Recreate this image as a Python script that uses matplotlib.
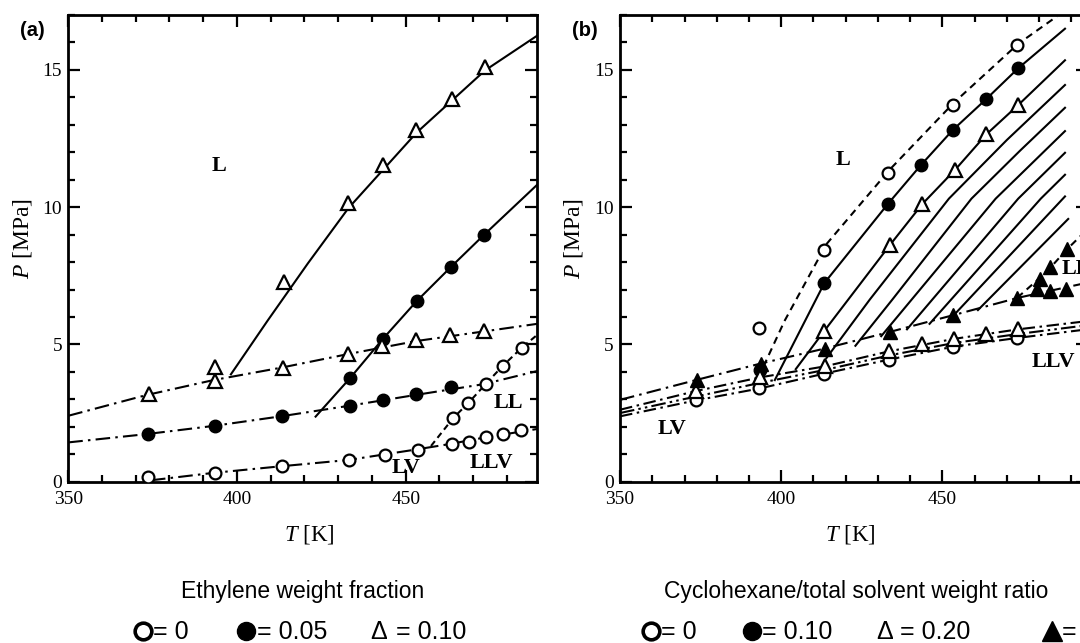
import numpy as np
import matplotlib
matplotlib.use('Agg')
import matplotlib.pyplot as plt
from matplotlib.lines import Line2D
from matplotlib.ticker import MultipleLocator

plt.rcParams['font.family'] = ['Liberation Serif', 'DejaVu Serif']
plt.rcParams['mathtext.fontset'] = 'custom'
plt.rcParams['mathtext.it'] = 'Liberation Serif:italic'
plt.rcParams['mathtext.rm'] = 'Liberation Serif'

# ---------------- panel (a): ethylene weight fraction ----------------
# points, w = 0 (open circles)
a0_lv_T = [373.6, 393.4, 413.4, 433.3, 443.8, 453.7, 463.6, 468.9, 473.8, 478.9, 484.1]
a0_lv_P = [0.18, 0.33, 0.57, 0.79, 0.97, 1.16, 1.37, 1.43, 1.61, 1.73, 1.87]
a0_ll_T = [464.1, 468.6, 473.8, 478.7, 484.4]
a0_ll_P = [2.32, 2.87, 3.57, 4.21, 4.88]
# w = 0.05 (filled circles)
a5_lv_T = [373.6, 393.4, 413.4, 433.5, 443.3, 453.2, 463.4]
a5_lv_P = [1.73, 2.03, 2.40, 2.76, 2.98, 3.18, 3.46]
a5_l_T = [433.5, 443.3, 453.3, 463.4, 473.2]
a5_l_P = [3.77, 5.21, 6.57, 7.82, 8.99]
# w = 0.10 (open triangles)
a10_lv_T = [373.8, 393.4, 413.7, 433.0, 443.1, 453.0, 463.2, 473.3]
a10_lv_P = [3.18, 3.67, 4.15, 4.66, 4.94, 5.16, 5.33, 5.48]
a10_l_T = [393.4, 414.0, 433.0, 443.4, 453.2, 463.7, 473.5]
a10_l_P = [4.19, 7.27, 10.15, 11.53, 12.80, 13.94, 15.10]

# curves
a10_lcurve_T = [398.2, 409.1, 421.0, 433.0, 453.2, 473.5, 489.0]
a10_lcurve_P = [3.91, 5.87, 7.95, 9.96, 12.71, 14.98, 16.25]
a5_lcurve_T = [423.3, 433.5, 443.3, 453.2, 463.4, 473.2, 489.0]
a5_lcurve_P = [2.37, 3.77, 5.21, 6.57, 7.82, 8.99, 10.82]
a10_lvcurve_T = [350, 373, 393, 413, 433, 453, 473, 489]
a10_lvcurve_P = [2.40, 3.15, 3.70, 4.15, 4.65, 5.12, 5.47, 5.75]
a5_lvcurve_T = [350, 373, 393, 413, 433, 453, 473, 489]
a5_lvcurve_P = [1.43, 1.73, 2.03, 2.38, 2.76, 3.16, 3.55, 4.03]
a0_lvcurve_T = [374.5, 393, 413, 433, 443, 453, 463, 473, 489]
a0_lvcurve_P = [0.05, 0.32, 0.56, 0.79, 0.98, 1.17, 1.37, 1.60, 1.92]
a0_llcurve_T = [457.5, 464.1, 468.6, 473.8, 478.7, 484.4, 489.0]
a0_llcurve_P = [1.30, 2.32, 2.87, 3.57, 4.21, 4.88, 5.35]

# ---------------- panel (b): cyclohexane / total solvent ----------------
b0_l_T = [393.1, 413.4, 433.1, 453.4, 473.2]
b0_l_P = [5.59, 8.44, 11.25, 13.72, 15.89]
b0_lv_T = [373.5, 393.1, 413.4, 433.4, 453.4, 473.2]
b0_lv_P = [2.96, 3.40, 3.94, 4.45, 4.92, 5.24]
b10_l_T = [413.4, 433.1, 443.3, 453.2, 463.6, 473.5]
b10_l_P = [7.24, 10.12, 11.53, 12.81, 13.94, 15.06]
b10_lv_T = [393.5]
b10_lv_P = [4.05]
b20_l_T = [413.4, 433.7, 443.8, 454.0, 463.6, 473.5]
b20_l_P = [5.50, 8.62, 10.12, 11.37, 12.65, 13.72]
b20_lv_T = [373.5, 393.5, 413.5, 433.5, 443.5, 453.5, 463.5, 473.5]
b20_lv_P = [3.30, 3.80, 4.20, 4.75, 5.00, 5.20, 5.37, 5.55]
b1_lv_T = [373.8, 393.6, 413.7, 433.7, 453.4, 473.2]
b1_lv_P = [3.70, 4.30, 4.85, 5.45, 6.07, 6.70]
b1_ll_T = [480.3, 483.4, 488.6, 479.2, 483.4, 488.3]
b1_ll_P = [7.38, 7.81, 8.48, 7.01, 6.95, 7.01]

b0_lcurve_T = [394.5, 401.0, 414.0, 433.5, 453.5, 473.5, 485.5]
b0_lcurve_P = [4.20, 5.85, 8.65, 11.35, 13.80, 15.95, 16.95]
# family of solid bubble-point curves (left to right)
b_solid_T = [
    [398.0, 413.4, 433.1, 443.3, 453.2, 463.6, 473.5, 488.0],
    [404.5, 413.4, 433.7, 443.8, 454.0, 463.6, 473.5, 488.0],
    [414.0, 427.5, 452.0, 470.0, 488.0],
    [423.0, 434.5, 459.0, 474.0, 488.0],
    [431.0, 466.5, 488.0],
    [439.0, 473.5, 488.0],
    [446.0, 480.5, 488.0],
    [453.0, 488.0],
    [461.0, 489.0],
]
b_solid_P = [
    [3.70, 7.24, 10.12, 11.53, 12.81, 13.94, 15.06, 16.50],
    [4.10, 5.50, 8.62, 10.12, 11.37, 12.65, 13.72, 15.35],
    [4.50, 6.64, 10.31, 12.45, 14.45],
    [4.95, 6.64, 10.31, 12.05, 13.62],
    [5.30, 10.31, 12.77],
    [5.55, 10.31, 11.98],
    [5.75, 10.31, 11.18],
    [6.00, 10.39],
    [6.25, 9.57],
]
b_lv_T = [350, 373.5, 393.5, 413.5, 433.5, 453.5, 473.5, 495]
b0_lvcurve_P = [2.38, 2.96, 3.40, 3.94, 4.45, 4.92, 5.24, 5.55]
b10_lvcurve_P = [2.50, 3.10, 3.60, 4.07, 4.60, 5.05, 5.38, 5.70]
b20_lvcurve_P = [2.62, 3.30, 3.80, 4.20, 4.75, 5.20, 5.55, 5.85]
b1_lvcurve_P = [2.98, 3.70, 4.30, 4.85, 5.45, 6.07, 6.70, 7.25]
b1_llcurve_T = [473.2, 479.5, 483.5, 488.5, 495.0]
b1_llcurve_P = [6.70, 7.35, 7.80, 8.45, 9.20]

lw = 1.5
dashdot = (0, (7, 2.5, 1.2, 2.5))
dashdot2 = (0, (6, 2.2, 1.2, 2.2))
dashed = (0, (3, 2))

op_c = dict(ls='none', marker='o', ms=8.5, mfc='white', mec='black', mew=1.6, zorder=4)
fl_c = dict(ls='none', marker='o', ms=9, mfc='black', mec='black', mew=1, zorder=4)
op_t = dict(ls='none', marker='^', ms=10, mfc='white', mec='black', mew=1.6, zorder=4)
fl_t = dict(ls='none', marker='^', ms=10, mfc='black', mec='black', mew=1, zorder=4)


def style(ax, xmax):
    ax.set_xlim(350, xmax)
    ax.set_ylim(0, 17)
    ax.xaxis.set_major_locator(MultipleLocator(50))
    ax.xaxis.set_minor_locator(MultipleLocator(10))
    ax.yaxis.set_major_locator(MultipleLocator(5))
    ax.yaxis.set_minor_locator(MultipleLocator(1))
    ax.tick_params(which='both', direction='in', top=True, right=True,
                   width=1.6, labelsize=14)
    ax.tick_params(which='major', length=8.6)
    ax.tick_params(which='minor', length=5)
    ax.tick_params(axis='x', pad=7)
    ax.tick_params(axis='y', pad=4.5)
    for s in ax.spines.values():
        s.set_linewidth(2)
    ax.set_xlabel('$T$ [K]', fontsize=16.5)
    ax.set_ylabel('$P$ [MPa]', fontsize=17)


fig = plt.figure(figsize=(10.8, 6.43), dpi=100)
axa = fig.add_axes([0.0632, 0.2509, 0.4343, 0.7258])
axb = fig.add_axes([0.5741, 0.2509, 0.4329, 0.7258])

# ---- panel a ----
ax = axa
style(ax, 489)
ax.plot(a10_lcurve_T, a10_lcurve_P, '-', c='k', lw=lw)
ax.plot(a5_lcurve_T, a5_lcurve_P, '-', c='k', lw=lw)
ax.plot(a10_lvcurve_T, a10_lvcurve_P, ls=dashdot, c='k', lw=lw)
ax.plot(a5_lvcurve_T, a5_lvcurve_P, ls=dashdot, c='k', lw=lw)
ax.plot(a0_lvcurve_T, a0_lvcurve_P, ls=dashdot, c='k', lw=lw)
ax.plot(a0_llcurve_T, a0_llcurve_P, ls=dashed, c='k', lw=lw)
ax.plot(a0_lv_T, a0_lv_P, **op_c)
ax.plot(a0_ll_T, a0_ll_P, **op_c)
ax.plot(a5_lv_T, a5_lv_P, **fl_c)
ax.plot(a5_l_T, a5_l_P, **fl_c)
ax.plot(a10_lv_T, a10_lv_P, **op_t)
ax.plot(a10_l_T, a10_l_P, **op_t)
for txt, T, P in [('L', 394.7, 11.5), ('LL', 480.5, 2.85),
                  ('LV', 450, 0.5), ('LLV', 475.3, 0.67)]:
    ax.text(T, P, txt, fontsize=16, fontweight='bold', ha='center', va='center', zorder=6)
ax.xaxis.set_label_coords(0.514, -0.088)
ax.xaxis.label.set_va('top')
ax.yaxis.set_label_coords(-0.073, 0.522)

# ---- panel b ----
ax = axb
style(ax, 495)
ax.plot(b0_lcurve_T, b0_lcurve_P, ls=(0, (3.5, 2.5)), c='k', lw=lw)
for Ts, Ps in zip(b_solid_T, b_solid_P):
    ax.plot(Ts, Ps, '-', c='k', lw=lw)
ax.plot(b_lv_T, b0_lvcurve_P, ls=dashdot2, c='k', lw=lw)
ax.plot(b_lv_T, b10_lvcurve_P, ls=(0, (7, 2, 1.2, 2, 1.2, 2)), c='k', lw=lw)
ax.plot(b_lv_T, b20_lvcurve_P, ls=dashdot2, c='k', lw=lw)
ax.plot(b_lv_T, b1_lvcurve_P, ls=dashdot, c='k', lw=lw)
ax.plot(b1_llcurve_T, b1_llcurve_P, ls=(0, (3.5, 2.5)), c='k', lw=lw)
ax.plot(b0_l_T, b0_l_P, **op_c)
ax.plot(b0_lv_T, b0_lv_P, **op_c)
ax.plot(b10_l_T, b10_l_P, **fl_c)
ax.plot(b10_lv_T, b10_lv_P, **fl_c)
ax.plot(b20_l_T, b20_l_P, **op_t)
ax.plot(b20_lv_T, b20_lv_P, **op_t)
ax.plot(b1_lv_T, b1_lv_P, **fl_t)
ax.plot(b1_ll_T, b1_ll_P, **fl_t)
for txt, T, P in [('L', 419, 11.7), ('LV', 366.2, 1.92), ('LLV', 484.5, 4.35)]:
    ax.text(T, P, txt, fontsize=16, fontweight='bold', ha='center', va='center', zorder=6)
ax.text(486.9, 7.75, 'LL', fontsize=16, fontweight='bold', ha='left', va='center',
        zorder=6, clip_on=False)
ax.xaxis.set_label_coords(0.4925, -0.088)
ax.xaxis.label.set_va('top')
ax.yaxis.set_label_coords(-0.075, 0.522)

# ---- panel tags ----
W, H = 1080.0, 643.0
fig.text(32 / W, 1 - 31 / H, '(a)', fontsize=14.5, fontweight='bold',
         family='Liberation Sans', ha='center', va='center')
fig.text(585 / W, 1 - 31 / H, '(b)', fontsize=14.5, fontweight='bold',
         family='Liberation Sans', ha='center', va='center')

# ---- legends under the panels ----
sans = ['Liberation Sans', 'DejaVu Sans']
fig.text(303 / W, 1 - 598 / H, 'Ethylene weight fraction', fontsize=16.5,
         family=sans, ha='center', va='baseline')
fig.text(856 / W, 1 - 598 / H, 'Cyclohexane/total solvent weight ratio', fontsize=16.5,
         family=sans, ha='center', va='baseline')

base = 1 - 639 / H
ymid = 1 - 631 / H
leg_a_txt = ['= 0', '= 0.05', '= 0.10']
leg_a_tx = [153, 257, 396]
leg_b_txt = ['= 0', '= 0.10', '= 0.20', '= 1']
leg_b_tx = [661, 762, 900, 1062]
# circle / triangle symbols in front of each value
for x in [143, 651]:
    fig.add_artist(Line2D([x / W], [ymid], transform=fig.transFigure, ls='none',
                          marker='o', ms=12, mfc='white', mec='black', mew=2.6))
for x in [246, 752]:
    fig.add_artist(Line2D([x / W], [ymid], transform=fig.transFigure, ls='none',
                          marker='o', ms=13, mfc='black', mec='black'))
fig.add_artist(Line2D([1052 / W], [ymid], transform=fig.transFigure, ls='none',
                      marker='^', ms=14, mfc='black', mec='black'))
for x in [370, 876]:
    fig.text(x / W, base, '\u0394', fontsize=18, family=sans, ha='left', va='baseline')
for txts, tx in [(leg_a_txt, leg_a_tx), (leg_b_txt, leg_b_tx)]:
    for t, x in zip(txts, tx):
        fig.text(x / W, base, t, fontsize=18, family=sans, ha='left', va='baseline')

fig.savefig('out.png', dpi=100)
